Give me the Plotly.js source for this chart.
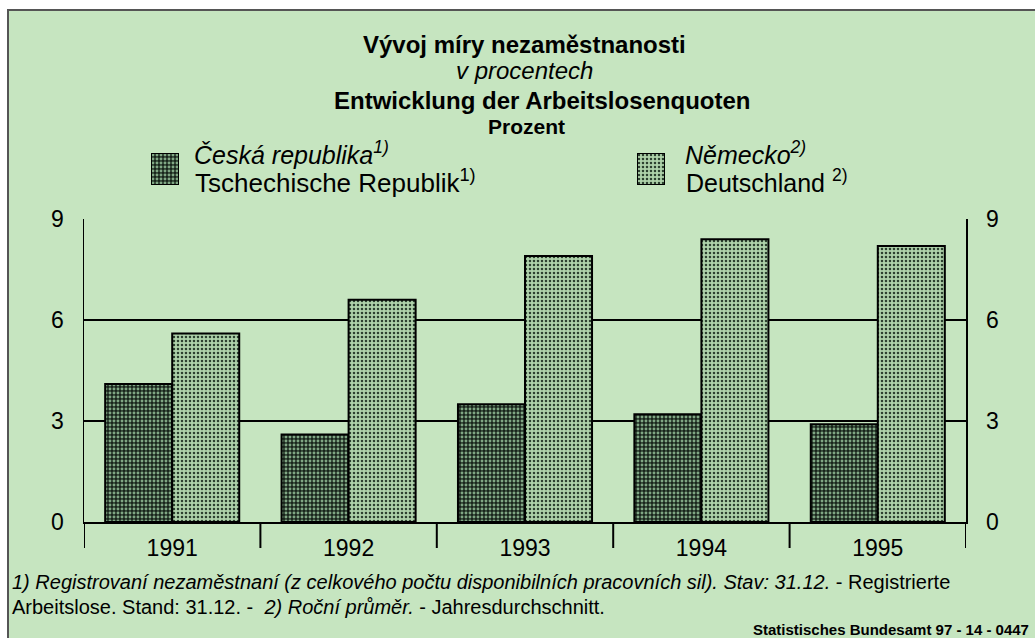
<!DOCTYPE html>
<html>
<head>
<meta charset="utf-8">
<script src="https://cdn.plot.ly/plotly-3.0.1.min.js"></script>
<style>html,body{margin:0;padding:0;background:#fff;}#chart{width:1035px;height:638px;}</style>
</head>
<body>
<div id="chart"></div>
<script>
// ---- data ----
const years = ["1991", "1992", "1993", "1994", "1995"];
const czechValues = [4.1, 2.6, 3.5, 3.2, 2.9];
const germanValues = [5.6, 6.6, 7.9, 8.4, 8.2];
const yTicks = [0, 3, 6, 9];
const czechLabelCz = "<i>Česká republika<sup>1)</sup></i>";
const czechLabelDe = "Tschechische Republik<sup>1)</sup>";
const germanLabelCz = "<i>Německo<sup>2)</sup></i>";
const germanLabelDe = "Deutschland <sup>2)</sup>";

const W = 1035, H = 638;
const px = v => v / W;
const py = v => (H - v) / H;

const BG = '#c6e5c0';
const czPattern = {shape: '.', size: 4, solidity: 0.42, fgcolor: '#80a784', bgcolor: '#18241b', fillmode: 'replace'};
const dePattern = {shape: '.', size: 4, solidity: 0.32, fgcolor: '#2c402f', bgcolor: '#aed2aa', fillmode: 'replace'};
const FONT = 'Liberation Sans, Arial, sans-serif';

const traces = [
  {type: 'bar', x: years, y: czechValues, name: 'CZ', xaxis: 'x', yaxis: 'y',
   marker: {color: '#18241b', pattern: czPattern, line: {color: '#000', width: 2}}, showlegend: false, hoverinfo: 'skip'},
  {type: 'bar', x: years, y: germanValues, name: 'DE', xaxis: 'x', yaxis: 'y',
   marker: {color: '#aed2aa', pattern: dePattern, line: {color: '#000', width: 2}}, showlegend: false, hoverinfo: 'skip'},
  // invisible trace so the right-hand axis is drawn
  {type: 'scatter', mode: 'markers', x: years, y: germanValues, xaxis: 'x', yaxis: 'y2',
   marker: {opacity: 0}, showlegend: false, hoverinfo: 'skip'},
  // legend swatches
  {type: 'bar', x: [0], y: [1], width: [1], xaxis: 'x2', yaxis: 'y3', cliponaxis: false,
   marker: {color: '#18241b', pattern: czPattern, line: {color: '#000', width: 2}}, showlegend: false, hoverinfo: 'skip'},
  {type: 'bar', x: [0], y: [1], width: [1], xaxis: 'x3', yaxis: 'y4', cliponaxis: false,
   marker: {color: '#aed2aa', pattern: dePattern, line: {color: '#000', width: 2}}, showlegend: false, hoverinfo: 'skip'}
];

const plotL = 84, plotR = 966, plotT = 219, plotB = 522;

const hiddenAxis = {visible: false, showgrid: false, zeroline: false, fixedrange: true, showticklabels: false};

const shapes = [
  // outer frame
  {type: 'rect', xref: 'paper', yref: 'paper', x0: px(8), x1: 1.2, y0: -0.2, y1: py(10),
   fillcolor: BG, line: {color: '#555', width: 2}, layer: 'below'}
];
// category boundary ticks below the axis
for (let i = 0; i <= years.length; i++) {
  shapes.push({type: 'line', xref: 'x', yref: 'paper', x0: i - 0.5, x1: i - 0.5,
    y0: py(548), y1: py(plotB), line: {color: '#000', width: 2}});
}

const annotations = [
  {text: '<b>Vývoj míry nezaměstnanosti</b>', x: px(524), y: py(45), font: {size: 24}},
  {text: '<i>v procentech</i>', x: px(524), y: py(71), font: {size: 24}},
  {text: '<b>Entwicklung der Arbeitslosenquoten</b>', x: px(542), y: py(100), font: {size: 24}},
  {text: '<b>Prozent</b>', x: px(526), y: py(127), font: {size: 21}},
  {text: czechLabelCz, x: px(192), y: py(153), xanchor: 'left', font: {size: 25}},
  {text: czechLabelDe, x: px(193), y: py(181), xanchor: 'left', font: {size: 26}},
  {text: germanLabelCz, x: px(683), y: py(153), xanchor: 'left', font: {size: 25}},
  {text: germanLabelDe, x: px(684), y: py(181), xanchor: 'left', font: {size: 25}},
  {text: '<i>1) Registrovaní nezaměstnaní (z celkového počtu disponibilních pracovních sil). Stav: 31.12.</i> - Registrierte',
   x: px(10), y: py(582), xanchor: 'left', font: {size: 20}},
  {text: 'Arbeitslose. Stand: 31.12. -  <i>2) Roční průměr.</i> - Jahresdurchschnitt.',
   x: px(10), y: py(607), xanchor: 'left', font: {size: 20}},
  {text: '<b>Statistisches Bundesamt 97 - 14 - 0447</b>', x: px(1031), y: py(629), xanchor: 'right', font: {size: 15}}
].map(a => Object.assign({xref: 'paper', yref: 'paper', showarrow: false, xanchor: 'center', yanchor: 'middle'}, a,
  {font: Object.assign({family: FONT, color: '#000'}, a.font)}));

const layout = {
  width: W, height: H,
  margin: {l: 0, r: 0, t: 0, b: 0, pad: 0},
  paper_bgcolor: '#ffffff',
  plot_bgcolor: 'rgba(0,0,0,0)',
  font: {family: FONT, color: '#000', size: 22},
  barmode: 'group', bargap: 0.24, bargroupgap: 0,
  showlegend: false,
  xaxis: {domain: [px(plotL), px(plotR)], anchor: 'y', type: 'category', range: [-0.5, 4.5],
    showline: true, linecolor: '#000', linewidth: 2, mirror: false, ticks: '', showgrid: false,
    zeroline: false, tickfont: {size: 23, family: FONT}, ticklabelstandoff: 4, fixedrange: true},
  yaxis: {domain: [py(plotB), py(plotT)], anchor: 'x', range: [0, 9], tickvals: yTicks,
    showgrid: true, gridcolor: '#000', gridwidth: 1.5, zeroline: false,
    showline: true, linecolor: '#000', linewidth: 1.5, ticks: '', ticklabelstandoff: 14,
    tickfont: {size: 23, family: FONT}, fixedrange: true},
  yaxis2: {overlaying: 'y', side: 'right', anchor: 'x', range: [0, 9], tickvals: yTicks,
    showgrid: false, zeroline: false, showline: true, linecolor: '#000', linewidth: 1.5,
    ticks: '', ticklabelstandoff: 14, tickfont: {size: 23, family: FONT}, fixedrange: true},
  xaxis2: Object.assign({domain: [px(151), px(179)], anchor: 'y3', range: [-0.5, 0.5]}, hiddenAxis),
  yaxis3: Object.assign({domain: [py(185), py(153)], anchor: 'x2', range: [0, 1]}, hiddenAxis),
  xaxis3: Object.assign({domain: [px(637), px(665)], anchor: 'y4', range: [-0.5, 0.5]}, hiddenAxis),
  yaxis4: Object.assign({domain: [py(185), py(153)], anchor: 'x3', range: [0, 1]}, hiddenAxis),
  shapes: shapes,
  annotations: annotations
};

Plotly.newPlot('chart', traces, layout, {staticPlot: true, displayModeBar: false});
</script>
</body>
</html>
